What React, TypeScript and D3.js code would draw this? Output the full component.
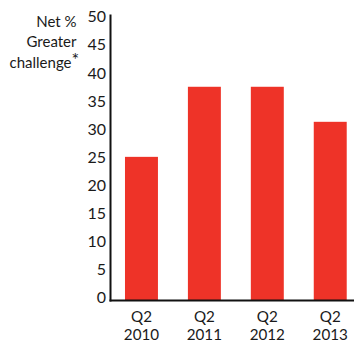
import React from "react";
import * as d3 from "d3";

const categories = ["Q2 2010", "Q2 2011", "Q2 2012", "Q2 2013"];
const values = [25, 37.5, 37.5, 31.25];
const yTicks = [0, 5, 10, 15, 20, 25, 30, 35, 40, 45, 50];
const titleLines = ["Net %", "Greater", "challenge"];

const W = 354;
const H = 343;

export default function App() {
  const y = d3.scaleLinear().domain([0, 50]).range([297, 16.7]);
  const x = d3
    .scaleBand<string>()
    .domain(categories)
    .range([110.7, 361])
    .paddingInner(30 / 63)
    .paddingOuter(14.3 / 63);
  const baseY = 300.5;
  const axisX = 110.5;
  const font = "Lato, 'Open Sans', sans-serif";
  return (
    <svg
      width={W}
      height={H}
      style={{ position: "absolute", left: 0, top: 0, background: "#fff" }}
      fontFamily={font}
    >
      {categories.map((c, i) => (
        <rect
          key={c}
          x={x(c)}
          y={y(values[i])}
          width={x.bandwidth()}
          height={baseY - y(values[i])}
          fill="#EE3328"
        />
      ))}
      <line x1={axisX} x2={axisX} y1={14.5} y2={baseY + 1} stroke="#111" strokeWidth={2} />
      <line x1={axisX - 1} x2={W} y1={baseY} y2={baseY} stroke="#111" strokeWidth={2} />
      {yTicks.map((t) => (
        <text
          key={t}
          x={106}
          y={y(t)}
          dy="0.36em"
          textAnchor="end"
          fontSize={16}
          fill="#1a1a1a"
        >
          {t}
        </text>
      ))}
      {categories.map((c) => {
        const [q, yr] = c.split(" ");
        const cx = (x(c) as number) + x.bandwidth() / 2;
        return (
          <g key={c}>
            <text x={cx} y={321.5} textAnchor="middle" fontSize={15.2} fill="#1a1a1a">
              {q}
            </text>
            <text x={cx} y={339.8} textAnchor="middle" fontSize={15.2} fill="#1a1a1a">
              {yr}
            </text>
          </g>
        );
      })}
      {titleLines.map((l, i) => (
        <text
          key={l}
          x={i === 2 ? 71.5 : 76.5}
          y={26.5 + i * 20.8}
          textAnchor="end"
          fontSize={15}
          fill="#1a1a1a"
        >
          {l}
        </text>
      ))}
      <text x={71.5} y={66} fontSize={18} fill="#1a1a1a">
        *
      </text>
    </svg>
  );
}
